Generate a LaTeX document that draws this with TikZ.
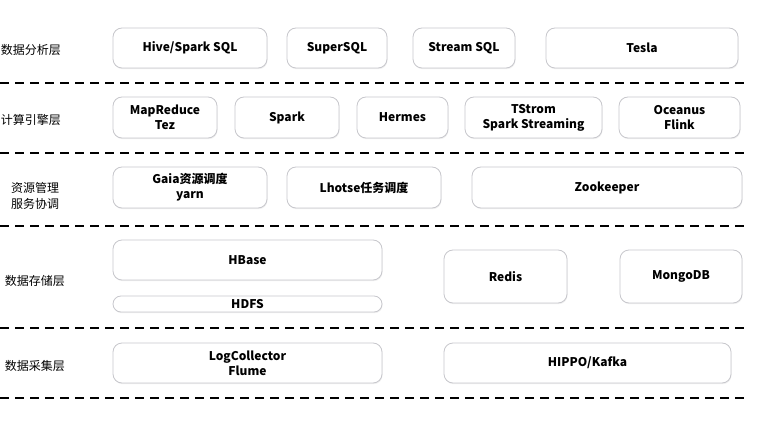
\documentclass[tikz,border=0pt]{standalone}
\usepackage{fontspec}
\setmainfont{Noto Sans CJK SC}
\usetikzlibrary{shadows}
\definecolor{boxline}{rgb}{0.78,0.78,0.80}

\begin{document}
\begin{tikzpicture}[x=1pt, y=-1pt,
    every node/.style = {inner sep=0pt},
    box/.style = {draw=boxline, line width=0.8pt, rounded corners=9pt, fill=white,
      align=center, font=\fontsize{12}{15}\selectfont\bfseries,
      drop shadow={opacity=0.12, shadow xshift=0.6pt, shadow yshift=-1.2pt}},
    layer/.style = {align=center, font=\fontsize{12}{16}\selectfont},
    sep/.style = {line width=1.3pt, dash pattern=on 9pt off 6pt}
    ]
    \useasboundingbox (0,0) rectangle (760,422);
    \node[layer] (analyse) at (31,50) {数据分析层};
    \node[layer] (compute) at (31,120) {计算引擎层};
    \node[layer] (resource) at (35,196) {资源管理\\服务协调};
    \node[layer] (storage) at (35,281) {数据存储层};
    \node[layer] (collect) at (35,366) {数据采集层};
    \node[box, minimum width=154, minimum height=40] (hive) at (190,48) {Hive/Spark SQL};
    \node[box, minimum width=100, minimum height=40] (supersql) at (337,48) {SuperSQL};
    \node[box, minimum width=102, minimum height=40] (streamsql) at (464,48) {Stream SQL};
    \node[box, minimum width=192, minimum height=40] (tesla) at (642,48) {Tesla};
    \node[box, minimum width=104, minimum height=41] (mapreduce) at (165,117.5) {MapReduce\\Tez};
    \node[box, minimum width=104, minimum height=41] (spark) at (287,117.5) {Spark};
    \node[box, minimum width=91, minimum height=41] (hermes) at (402.5,117.5) {Hermes};
    \node[box, minimum width=137, minimum height=41] (tstrom) at (533.5,117.5) {TStrom\\Spark Streaming};
    \node[box, minimum width=121, minimum height=41] (oceanus) at (679.5,117.5) {Oceanus\\Flink};
    \node[box, minimum width=154, minimum height=41] (gaia) at (190,187.5) {Gaia资源调度\\yarn};
    \node[box, minimum width=154, minimum height=41] (lhotse) at (364,187.5) {Lhotse任务调度};
    \node[box, minimum width=270, minimum height=41] (zookeeper) at (607,187.5) {Zookeeper};
    \node[box, minimum width=269, minimum height=40] (hbase) at (247.5,260) {HBase};
    \node[box, minimum width=269, minimum height=16, rounded corners=8pt] (hdfs) at (247.5,304) {HDFS};
    \node[box, minimum width=123, minimum height=53] (redis) at (505.5,276.5) {Redis};
    \node[box, minimum width=122, minimum height=53] (mongodb) at (681,276.5) {MongoDB};
    \node[box, minimum width=269, minimum height=40] (logcollector) at (247.5,363) {LogCollector\\Flume};
    \node[box, minimum width=287, minimum height=40] (hippo) at (587.5,363) {HIPPO/Kafka};
    \foreach \y in {83,153,226,328,398}
      \draw[sep] (0,\y) -- (748,\y);
\end{tikzpicture}
\end{document}
